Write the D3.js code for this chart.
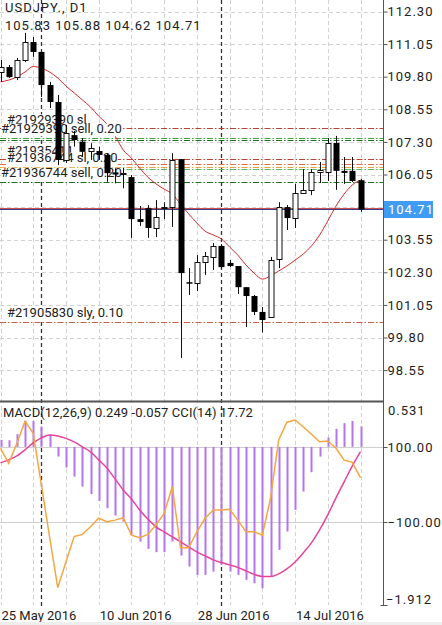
<!DOCTYPE html>
<html><head><meta charset="utf-8">
<script src="https://cdn.jsdelivr.net/npm/d3@7"></script>
<style>
body{margin:0;background:#fff}
svg{display:block}
text{font-family:Roboto,"Noto Sans",sans-serif;fill:#222}
</style>
</head><body>
<svg id="chart" width="442" height="625"></svg>
<script>
// ---------- data ----------
const symbol = "USDJPY., D1";
const lastQuote = "105.83 105.88 104.62 104.71";
const indicatorHeader = "MACD(12,26,9) 0.249 -0.057 CCI(14) 17.72";
const dates = ["2016-05-25","2016-05-26","2016-05-27","2016-05-30","2016-05-31",
 "2016-06-01","2016-06-02","2016-06-03","2016-06-06","2016-06-07","2016-06-08","2016-06-09","2016-06-10",
 "2016-06-13","2016-06-14","2016-06-15","2016-06-16","2016-06-17","2016-06-20","2016-06-21","2016-06-22",
 "2016-06-23","2016-06-24","2016-06-27","2016-06-28","2016-06-29","2016-06-30","2016-07-01","2016-07-04",
 "2016-07-05","2016-07-06","2016-07-07","2016-07-08","2016-07-11","2016-07-12","2016-07-13","2016-07-14",
 "2016-07-15","2016-07-18","2016-07-19","2016-07-20","2016-07-21","2016-07-22","2016-07-25","2016-07-26"];
const open  = [109.98,110.17,109.79,110.44,111.13,110.75,109.48,108.83,106.61,107.56,107.31,106.98,106.95,106.80,106.13,106.08,105.95,104.34,104.76,104.00,104.78,104.80,106.64,101.92,101.89,102.69,102.88,103.31,102.66,102.54,101.73,101.39,100.78,100.59,102.81,104.80,104.38,105.34,105.46,106.15,106.15,107.26,106.19,106.19,105.83];
const high  = [110.44,110.25,110.52,111.48,111.32,110.75,109.60,109.10,107.95,107.72,107.45,107.25,107.12,106.86,106.29,106.30,106.03,104.84,104.88,105.07,104.99,106.87,106.64,102.46,102.96,103.08,103.42,103.38,102.77,102.54,101.73,101.43,100.97,102.89,104.99,104.88,105.69,106.26,106.26,106.53,107.45,107.53,106.72,106.72,105.88];
const low   = [109.60,109.75,109.67,110.36,110.56,109.02,108.60,106.41,106.49,107.12,106.73,106.61,106.61,105.77,105.71,105.52,103.62,104.08,103.62,103.65,104.34,104.04,99.01,101.43,101.58,102.20,102.39,102.46,102.50,101.47,100.20,100.66,99.99,100.55,102.46,103.92,104.00,105.30,105.26,105.72,105.80,105.46,105.69,105.76,104.62];
const close = [110.17,109.79,110.44,111.13,110.75,109.48,108.83,106.61,107.64,107.37,106.92,107.08,106.80,106.10,106.05,106.10,104.34,104.23,104.00,104.42,104.82,106.61,102.27,101.88,102.69,102.92,103.31,102.50,102.54,101.73,101.39,100.78,100.47,102.77,104.80,104.38,105.34,105.46,106.15,106.22,107.26,106.19,106.11,105.80,104.71];
const movingAverage = [109.60,109.67,109.79,109.98,110.19,110.13,109.98,109.75,109.44,109.18,108.91,108.64,108.29,107.99,107.53,106.99,106.68,106.30,105.95,105.69,105.49,105.30,104.92,104.54,104.19,103.88,103.73,103.58,103.27,102.96,102.58,102.27,102.04,102.16,102.35,102.54,102.77,103.00,103.31,103.73,104.27,104.84,105.30,105.65,105.84];
const macdMain = [0.085,0.08,0.154,0.314,0.314,0.246,0.145,-0.117,-0.25,-0.359,-0.48,-0.571,-0.653,-0.741,-0.83,-0.903,-1.064,-1.145,-1.233,-1.273,-1.273,-1.145,-1.314,-1.447,-1.548,-1.548,-1.508,-1.427,-1.508,-1.548,-1.608,-1.649,-1.709,-1.568,-1.245,-1.024,-0.762,-0.54,-0.306,-0.117,0.113,0.218,0.287,0.314,0.249];
const macdSignal = [-0.193,-0.157,-0.109,-0.036,0.048,0.109,0.145,0.133,0.103,0.06,0.0,-0.06,-0.157,-0.254,-0.387,-0.52,-0.629,-0.762,-0.871,-0.967,-1.028,-1.088,-1.148,-1.209,-1.270,-1.318,-1.366,-1.399,-1.427,-1.457,-1.499,-1.542,-1.566,-1.568,-1.536,-1.475,-1.391,-1.282,-1.161,-1.004,-0.822,-0.617,-0.423,-0.230,-0.057];
const cci = [96.5,56.5,110,169,136.5,-1.3,-140,-275,-206,-139,-133,-112.5,-90,-99,-95,-88.5,-135,-142,-133,-108,-77,-6,-168.5,-168.5,-126,-90,-68,-68,-66,-95,-126,-126,-135,-37,119,166,172,154,134,114,116,96.5,65,59,17.72];
const priceTicks = [112.30,111.05,109.80,108.55,107.30,106.05,104.80,103.55,102.30,101.05,99.80,98.55];
const cciLevels = [100,-100];
const macdRange = [-1.912,0.531];
const bidPrice = 104.71;
const dateLabelEvery = 12;
const orderLevels = [107.82,107.46,107.36,106.64,106.44,106.35,106.26,105.77,100.41];
const orderLabelTexts = ["#21929390 sl","#21929390 sell, 0.20","","#21935411","","#21936744 sl, 0.20","","#21936744 sell, 0.20","#21905830 sly, 0.10"];
const monthStarts = ["2016-06-01","2016-07-01"];

// ---------- layout ----------
const W = 442, axisX = 383.5;
const subTop = 403, subBottom = 605;
const svg = d3.select("#chart");
svg.append("rect").attr("width",W).attr("height",625).attr("fill","#fff");

const x = d3.scalePoint().domain(dates).range([0.5, 360.5]);
const px = d => Math.round(x(d)) + 0.5;
const y = d3.scaleLinear().domain([98.55,112.30]).range([370.1,11.5]);
const yM = d3.scaleLinear().domain(macdRange).range([subBottom, subTop]);
const yC = d3.scaleLinear().domain([-100,100]).range([522,447]);

// ---------- grid ----------
const grid = svg.append("g");
dates.forEach((d,i)=>{
  if(i%4===0){
    grid.append("line").attr("x1",px(d)).attr("x2",px(d)).attr("y1",0).attr("y2",subBottom)
      .attr("stroke","#d2d2d2").attr("stroke-dasharray","4,3");
  }
});
priceTicks.forEach(p=>{
  const yy = Math.round(y(p))+0.5;
  grid.append("line").attr("x1",0).attr("x2",axisX).attr("y1",yy).attr("y2",yy)
    .attr("stroke","#d2d2d2").attr("stroke-dasharray","4,3");
});
cciLevels.forEach(c=>{
  const yy = Math.round(yC(c))+0.5;
  grid.append("line").attr("x1",0).attr("x2",axisX).attr("y1",yy).attr("y2",yy)
    .attr("stroke","#cfcfcf");
});
monthStarts.forEach(d=>{
  grid.append("line").attr("x1",px(d)).attr("x2",px(d)).attr("y1",0).attr("y2",608)
    .attr("stroke","#333").attr("stroke-width",1.3).attr("stroke-dasharray","4,3");
});

// ---------- order lines ----------
const lineColors = ["#b8442f","#3fa83f","#1f6f1f","#b8442f","#e0704c","#e5a23c","#5cb85c","#1f6f1f","#c8604a"];
const ol = svg.append("g");
orderLevels.forEach((p,i)=>{
  const yy = Math.round(y(p))+0.5;
  ol.append("line").attr("x1",0).attr("x2",axisX).attr("y1",yy).attr("y2",yy)
    .attr("stroke",lineColors[i]).attr("stroke-width",1)
    .attr("stroke-dasharray","6,2,1.5,2");
});

// ---------- bid line ----------
const by = Math.round(y(bidPrice));
svg.append("line").attr("x1",0).attr("x2",axisX).attr("y1",by-0.5).attr("y2",by-0.5).attr("stroke","#c85050");
svg.append("line").attr("x1",0).attr("x2",axisX).attr("y1",by+0.5).attr("y2",by+0.5).attr("stroke","#3c3c8c");

// ---------- moving average ----------
svg.append("path").datum(movingAverage)
  .attr("d", d3.line().x((v,i)=>x(dates[i])).y(v=>y(v)).curve(d3.curveMonotoneX))
  .attr("fill","none").attr("stroke","#d32a2a").attr("stroke-width",1);

// ---------- order labels ----------
const lab = svg.append("g").attr("font-size","13px");
orderLabelTexts.forEach((t,i)=>{
  if(!t) return;
  const base = y(orderLevels[i]) - 4.5;
  const tx = t.includes("sell") ? 1 : 7;
  const g = lab.append("g");
  const txt = g.append("text").attr("x",tx).attr("y",base).text(t);
  const bb = txt.node().getBBox();
  g.insert("rect","text").attr("x",bb.x).attr("y",base-9.5).attr("width",bb.width).attr("height",12.5).attr("fill","#fff");
});

// ---------- candles ----------
const cg = svg.append("g");
dates.forEach((d,i)=>{
  const cx = px(d);
  cg.append("line").attr("x1",cx).attr("x2",cx).attr("y1",y(high[i])).attr("y2",y(low[i]))
    .attr("stroke","#111").attr("stroke-width",1);
  const up = close[i] >= open[i];
  const top = y(Math.max(open[i],close[i])), bot = y(Math.min(open[i],close[i]));
  const h = Math.max(1, bot-top);
  if(up){
    cg.append("rect").attr("x",cx-2.5).attr("y",Math.round(top)+0.5).attr("width",5).attr("height",Math.max(1,Math.round(h)))
      .attr("fill","#fff").attr("stroke","#111").attr("stroke-width",1);
  } else {
    cg.append("rect").attr("x",cx-3).attr("y",top).attr("width",6).attr("height",Math.max(1.5,h))
      .attr("fill","#000");
  }
});

// ---------- header texts ----------
svg.append("text").attr("x",5).attr("y",11.5).attr("font-size","13px").attr("letter-spacing","1px").text(symbol);
svg.append("text").attr("x",5).attr("y",29.5).attr("font-size","13px").attr("letter-spacing","1px").text(lastQuote);

// ---------- panel separator & axis ----------
svg.append("line").attr("x1",0).attr("x2",axisX).attr("y1",401.5).attr("y2",401.5).attr("stroke","#555").attr("stroke-width",2);
svg.append("line").attr("x1",axisX).attr("x2",axisX).attr("y1",0).attr("y2",subBottom+1).attr("stroke","#555");

const labelTicks = priceTicks.filter(p => Math.abs(p - bidPrice) > 0.3);
const ax = svg.append("g").attr("transform",`translate(${axisX},0)`)
  .call(d3.axisRight(y).tickValues(labelTicks).tickSize(4).tickPadding(0).tickFormat(d3.format(".2f")));
ax.select(".domain").remove();
ax.selectAll("line").attr("stroke","#555");
ax.selectAll("text").attr("font-size","13px").attr("letter-spacing","1px").attr("font-family","Roboto").attr("fill","#222");

// price label box
const boxG = svg.append("g");
boxG.append("rect").attr("x",384).attr("y",by-8).attr("width",49).attr("height",17).attr("fill","#3f9cf2");
boxG.append("text").attr("x",388).attr("y",by).attr("dy","0.35em").attr("font-size","13px").attr("letter-spacing","1px").style("fill","#fff").text(d3.format(".2f")(bidPrice));

// ---------- MACD / CCI panel ----------
const sub = svg.append("g");
dates.forEach((d,i)=>{
  const cx = Math.round(x(d));
  const y0 = yM(0), y1 = yM(macdMain[i]);
  sub.append("rect").attr("x",cx-0.5).attr("width",2).attr("y",Math.min(y0,y1)).attr("height",Math.abs(y1-y0))
    .attr("fill","#b574f0");
});
sub.append("path").datum(macdSignal)
  .attr("d", d3.line().x((v,i)=>x(dates[i])).y(v=>yM(v)).curve(d3.curveMonotoneX))
  .attr("fill","none").attr("stroke","#e6449c").attr("stroke-width",1.5);
sub.append("path").datum(cci)
  .attr("d", d3.line().x((v,i)=>x(dates[i])).y(v=>yC(v)))
  .attr("fill","none").attr("stroke","#f4a640").attr("stroke-width",1.5);

svg.append("text").attr("x",3).attr("y",416.5).attr("font-size","13px").attr("letter-spacing","0.1px").text(indicatorHeader);

const ax2 = svg.append("g").attr("transform",`translate(${axisX},0)`)
  .call(d3.axisRight(yC).tickValues(cciLevels).tickSize(4).tickPadding(0).tickFormat(d3.format(".2f")));
ax2.select(".domain").remove();
ax2.selectAll("line").attr("stroke","#555");
ax2.selectAll("text").attr("font-size","13px").attr("letter-spacing","1px").attr("font-family","Roboto").attr("fill","#222");
svg.append("text").attr("x",388).attr("y",yM(macdRange[1])+7).attr("dy","0.35em").attr("font-size","13px").attr("letter-spacing","1px").text(d3.format(".3f")(macdRange[1]));
svg.append("text").attr("x",386).attr("y",yM(macdRange[0])-6).attr("dy","0.35em").attr("font-size","13px").attr("letter-spacing","1px").text(d3.format(".3f")(macdRange[0]));
svg.append("line").attr("x1",axisX-3).attr("x2",axisX+4).attr("y1",subBottom+0.5).attr("y2",subBottom+0.5).attr("stroke","#555");

// ---------- date labels ----------
const fmt = d3.timeFormat("%-d %b %Y"), parse = d3.timeParse("%Y-%m-%d");
dates.forEach((d,i)=>{
  if(i%dateLabelEvery===0){
    svg.append("text").attr("x",x(d)+1).attr("y",619.5).attr("font-size","13px").text(fmt(parse(d)));
  }
});
svg.append("rect").attr("x",0).attr("y",622).attr("width",W).attr("height",3).attr("fill","#eeeeee");
</script>
</body></html>
